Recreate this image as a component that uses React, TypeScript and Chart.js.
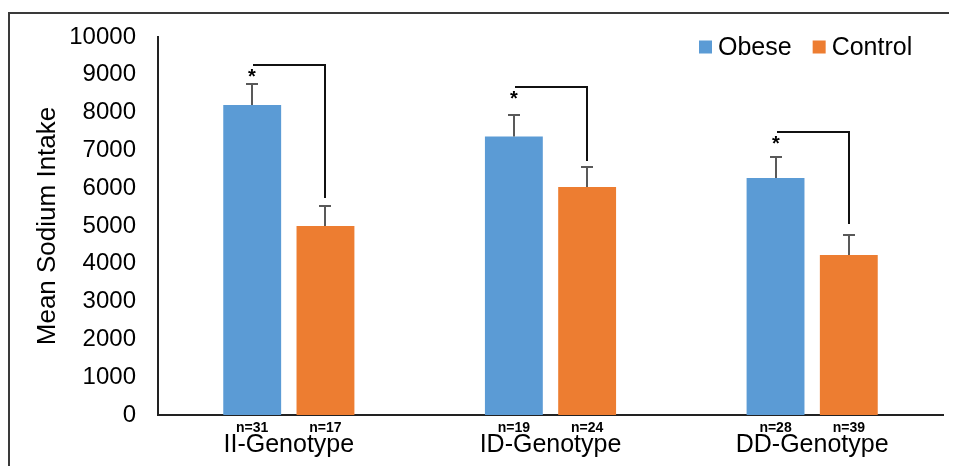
import React, { useEffect, useRef } from 'react';
import { Chart, registerables } from 'chart.js';

Chart.register(...registerables);

const categories = ['II-Genotype', 'ID-Genotype', 'DD-Genotype'];
const seriesNames = ['Obese', 'Control'];
const seriesColors = ['#5B9BD5', '#ED7D31'];
const obeseValues = [8200, 7370, 6270];
const controlValues = [5000, 6030, 4230];
const obeseErrors = [555, 560, 555];
const controlErrors = [530, 520, 530];
const obeseCounts = [31, 19, 28];
const controlCounts = [17, 24, 39];
const bracketTop = [9260, 8680, 7490];
const bracketBottom = [5740, 6720, 5050];
const yTicks = [0, 1000, 2000, 3000, 4000, 5000, 6000, 7000, 8000, 9000, 10000];
const yTitle = 'Mean Sodium Intake';

const FONT = '"Liberation Sans", Arial, sans-serif';

const annotatePlugin = {
  id: 'annotate',
  afterDatasetsDraw(chart: any) {
    const { ctx } = chart;
    const y = chart.scales.y;
    const metaO = chart.getDatasetMeta(0);
    const metaC = chart.getDatasetMeta(1);
    ctx.save();
    const sets: any[] = [
      [metaO, obeseValues, obeseErrors, obeseCounts],
      [metaC, controlValues, controlErrors, controlCounts],
    ];
    // error bars
    sets.forEach(([meta, vals, errs]) => {
      meta.data.forEach((bar: any, i: number) => {
        const cx = Math.round(bar.x);
        const y0 = y.getPixelForValue(vals[i]);
        const y1 = Math.round(y.getPixelForValue(vals[i] + errs[i]));
        ctx.strokeStyle = '#595959';
        ctx.lineWidth = 2;
        ctx.beginPath();
        ctx.moveTo(cx, y0);
        ctx.lineTo(cx, y1);
        ctx.moveTo(cx - 6, y1);
        ctx.lineTo(cx + 6, y1);
        ctx.stroke();
      });
    });
    // brackets + asterisks
    metaO.data.forEach((bar: any, i: number) => {
      const x0 = Math.round(bar.x) + 1;
      const x1 = Math.round(metaC.data[i].x);
      const yt = Math.round(y.getPixelForValue(bracketTop[i]));
      const yb = Math.round(y.getPixelForValue(bracketBottom[i]));
      ctx.strokeStyle = '#111';
      ctx.lineWidth = 2;
      ctx.beginPath();
      ctx.moveTo(x0, yt);
      ctx.lineTo(x1, yt);
      ctx.lineTo(x1, yb);
      ctx.stroke();
      ctx.fillStyle = '#000';
      ctx.font = `bold 20px ${FONT}`;
      ctx.textAlign = 'center';
      ctx.textBaseline = 'alphabetic';
      ctx.fillText('*', Math.round(bar.x), yt + 18);
    });
    // n labels
    ctx.fillStyle = '#000';
    ctx.font = `bold 14px ${FONT}`;
    ctx.textAlign = 'center';
    ctx.textBaseline = 'middle';
    sets.forEach(([meta, , , counts]) => {
      meta.data.forEach((bar: any, i: number) => {
        ctx.fillText('n=' + counts[i], bar.x, chart.chartArea.bottom + 13);
      });
    });
    // legend
    ctx.font = `25px ${FONT}`;
    ctx.textAlign = 'left';
    ctx.textBaseline = 'middle';
    let lx = 691;
    const ly = 39;
    chart.data.datasets.forEach((ds: any) => {
      ctx.fillStyle = ds.backgroundColor;
      ctx.fillRect(lx, ly - 6.5, 13, 13);
      ctx.fillStyle = '#000';
      ctx.fillText(ds.label, lx + 19, ly + 1);
      lx += 19 + ctx.measureText(ds.label).width + 21;
    });
    ctx.restore();
  },
};

export default function App() {
  const ref = useRef<HTMLCanvasElement | null>(null);
  useEffect(() => {
    if (!ref.current) return;
    const chart = new Chart(ref.current, {
      type: 'bar',
      data: {
        labels: categories,
        datasets: [
          { label: seriesNames[0], data: obeseValues, backgroundColor: seriesColors[0], categoryPercentage: 0.56, barPercentage: 0.79 },
          { label: seriesNames[1], data: controlValues, backgroundColor: seriesColors[1], categoryPercentage: 0.56, barPercentage: 0.79 },
        ],
      },
      options: {
        responsive: false,
        animation: false,
        layout: { padding: { top: 29, right: 14, left: 0, bottom: 0 } },
        plugins: { legend: { display: false }, tooltip: { enabled: false } },
        scales: {
          x: {
            grid: { display: false, drawTicks: false },
            border: { display: true, color: '#222', width: 2 },
            ticks: { color: '#000', font: { family: FONT, size: 25 }, padding: 15 },
            afterFit: (s: any) => { s.height = 51; s.paddingLeft = 0; s.paddingRight = 0; },
          },
          y: {
            min: 0,
            max: 10000,
            grid: { display: false, drawTicks: false },
            border: { display: true, color: '#222', width: 2 },
            ticks: {
              color: '#000',
              font: { family: FONT, size: 24 },
              padding: 22,
              stepSize: 1000,
              callback: (v: any) => String(v),
            },
            afterBuildTicks: (s: any) => { s.ticks = yTicks.map((v) => ({ value: v })); },
            afterFit: (s: any) => { s.width = 150; s.paddingTop = 0; s.paddingBottom = 0; },
            title: { display: true, text: yTitle, color: '#000', font: { family: FONT, size: 26, lineHeight: 1.2 }, padding: { top: 24, bottom: 0 } },
          },
        },
      },
      plugins: [annotatePlugin],
    } as any);
    return () => chart.destroy();
  }, []);
  return (
    <div style={{ position: 'relative', width: 949, height: 458, overflow: 'hidden' }}>
      <div style={{ position: 'absolute', top: 4, left: 0, right: 0, bottom: -20, borderTop: '2px solid #3a3a3a', borderLeft: '2px solid #3a3a3a', borderRight: '1px solid #d0d0d0' }} />
      <canvas ref={ref} width={949} height={458} style={{ position: 'absolute', left: 0, top: 0, width: 949, height: 458 }} />
    </div>
  );
}
